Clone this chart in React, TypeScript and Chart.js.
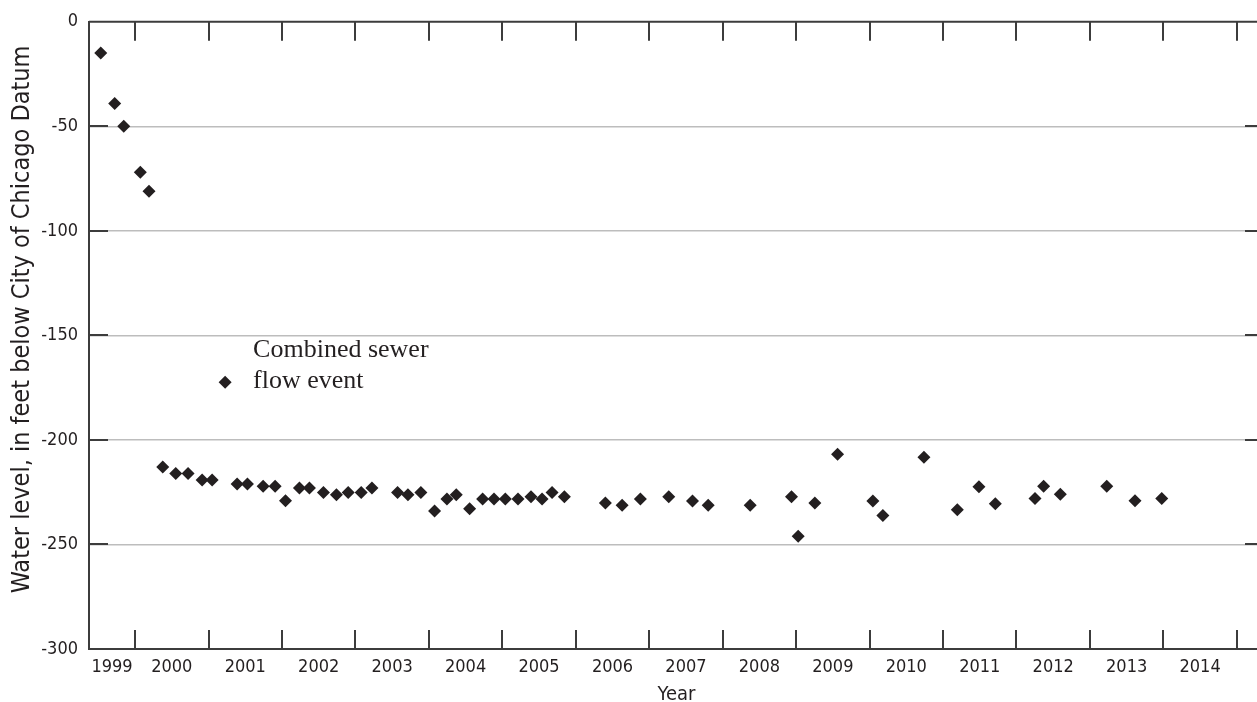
import React, { useEffect, useRef } from 'react';
import { Chart, registerables } from 'chart.js';

Chart.register(...registerables);

// ---- Data ----
const yearLabels = ['1999', '2000', '2001', '2002', '2003', '2004', '2005', '2006', '2007', '2008', '2009', '2010', '2011', '2012', '2013', '2014'];
const yearBoundaries = [2000, 2001, 2002, 2003, 2004, 2005, 2006, 2007, 2008, 2009, 2010, 2011, 2012, 2013, 2014, 2015];
const yTickValues = [0, -50, -100, -150, -200, -250, -300];

const sampleDates = [
  1999.533, 1999.723, 1999.846, 2000.072, 2000.19,
  2000.377, 2000.554, 2000.722, 2000.913, 2001.049,
  2001.39, 2001.53, 2001.744, 2001.907, 2002.048,
  2002.238, 2002.374, 2002.565, 2002.742, 2002.902,
  2003.079, 2003.225, 2003.574, 2003.715, 2003.891,
  2004.078, 2004.246, 2004.373, 2004.555, 2004.732,
  2004.887, 2005.041, 2005.214, 2005.391, 2005.541,
  2005.677, 2005.845, 2006.403, 2006.631, 2006.88,
  2007.266, 2007.589, 2007.803, 2008.375, 2008.937,
  2009.028, 2009.255, 2009.564, 2010.045, 2010.181,
  2010.74, 2011.195, 2011.489, 2011.712, 2012.252,
  2012.37, 2012.597, 2013.229, 2013.614, 2013.978,
];
const waterLevels = [
  -14.9, -39.1, -50, -72, -81,
  -213, -216, -216, -219.2, -219.2,
  -221.1, -221.1, -222.2, -222.1, -229.1,
  -223, -223, -225.1, -226.2, -225.1,
  -225.1, -223, -225.1, -226.2, -225.1,
  -234, -228.3, -226.2, -232.9, -228.3,
  -228.3, -228.3, -228.3, -227.2, -228.3,
  -225.1, -227.2, -230.2, -231.3, -228.3,
  -227.2, -229.2, -231.3, -231.3, -227.2,
  -246.1, -230.2, -206.9, -229.2, -236.1,
  -208.3, -233.4, -222.4, -230.5, -228,
  -222.1, -226, -222.1, -229.1, -228,
];

const sewerEventDates = [2001.226];
const sewerEventLevels = [-172.4];
const sewerEventText = ['Combined sewer', 'flow event'];

const yTitle = 'Water level, in feet below City of Chicago Datum';
const xTitle = 'Year';

const xMin = 1999.373;
const xMax = 2015.37;
const yMin = -300;
const yMax = 0;

// ---- Styles ----
const INK = '#231f20';
const AXIS = '#3c3c3c';
const GRID = '#bdbdbd';
const SANS = "'Liberation Sans Narrow', 'DejaVu Sans Condensed', 'Arial Narrow', sans-serif";
const SERIF = "'Liberation Serif', 'DejaVu Serif', serif";

const frameTicksPlugin = {
  id: 'frameTicks',
  afterDraw(chart: any) {
    const { ctx, chartArea, scales } = chart;
    const { left, right, top, bottom } = chartArea;
    const xs = scales.x;
    const ys = scales.y;
    const len = 19;
    ctx.save();
    ctx.strokeStyle = AXIS;
    ctx.lineWidth = 2;
    ctx.beginPath();
    ctx.moveTo(left, top);
    ctx.lineTo(right, top);
    ctx.moveTo(right, top);
    ctx.lineTo(right, bottom);
    yearBoundaries.forEach((b) => {
      const x = Math.round(xs.getPixelForValue(b));
      ctx.moveTo(x, top);
      ctx.lineTo(x, top + len);
      ctx.moveTo(x, bottom);
      ctx.lineTo(x, bottom - len);
    });
    yTickValues.forEach((v) => {
      if (v === yMin || v === yMax) return;
      const y = Math.round(ys.getPixelForValue(v));
      ctx.moveTo(left, y);
      ctx.lineTo(left + len, y);
      ctx.moveTo(right, y);
      ctx.lineTo(right - len, y);
    });
    ctx.stroke();

    // y-axis title (rotated), placed slightly above the plot's centre as in the original
    ctx.fillStyle = INK;
    ctx.font = `25px ${SANS}`;
    ctx.textAlign = 'center';
    ctx.textBaseline = 'middle';
    ctx.translate(22, (top + bottom) / 2 - 16);
    ctx.rotate(-Math.PI / 2);
    ctx.fillText(yTitle, 0, 0);
    ctx.restore();
  },
};

const annotationPlugin = {
  id: 'sewerAnnotation',
  afterDatasetsDraw(chart: any) {
    const { ctx, scales } = chart;
    const px = scales.x.getPixelForValue(sewerEventDates[0]);
    const py = scales.y.getPixelForValue(sewerEventLevels[0]);
    ctx.save();
    ctx.fillStyle = INK;
    ctx.font = `26px ${SERIF}`;
    ctx.textAlign = 'left';
    ctx.textBaseline = 'alphabetic';
    ctx.fillText(sewerEventText[0], px + 28, py - 25);
    ctx.fillText(sewerEventText[1], px + 28, py + 6);
    ctx.restore();
  },
};

export default function App() {
  const canvasRef = useRef<HTMLCanvasElement | null>(null);

  useEffect(() => {
    document.body.style.margin = '0';
    const canvas = canvasRef.current;
    if (!canvas) return;
    const chart = new Chart(canvas, {
      type: 'scatter',
      data: {
        datasets: [
          {
            label: 'Water level',
            data: sampleDates.map((d, i) => ({ x: d, y: waterLevels[i] })),
            pointStyle: 'rectRot',
            pointRadius: 6.5,
            pointHoverRadius: 6.5,
            backgroundColor: INK,
            borderColor: INK,
            borderWidth: 0,
          },
          {
            label: 'Combined sewer flow event',
            data: sewerEventDates.map((d, i) => ({ x: d, y: sewerEventLevels[i] })),
            pointStyle: 'rectRot',
            pointRadius: 6.5,
            pointHoverRadius: 6.5,
            backgroundColor: INK,
            borderColor: INK,
            borderWidth: 0,
          },
        ],
      },
      options: {
        animation: false,
        responsive: true,
        maintainAspectRatio: false,
        layout: { padding: { left: 0, top: 21, right: 11, bottom: 0 } },
        plugins: {
          legend: { display: false },
          tooltip: { enabled: false },
        },
        scales: {
          x: {
            type: 'linear',
            min: xMin,
            max: xMax,
            afterBuildTicks: (s: any) => {
              // each year label sits in the middle of the visible part of its year
              s.ticks = yearLabels.map((l) => {
                const y0 = Math.max(xMin, Number(l));
                const y1 = Math.min(xMax, Number(l) + 1);
                return { value: (y0 + y1) / 2 };
              });
            },
            afterFit: (s: any) => {
              s.height = 53;
            },
            ticks: {
              autoSkip: false,
              maxRotation: 0,
              padding: 8,
              color: INK,
              font: { family: SANS, size: 18 },
              callback: (_v: any, i: number) => yearLabels[i],
            },
            grid: { display: false, drawTicks: false },
            border: { display: true, color: AXIS, width: 2 },
            title: {
              display: true,
              text: xTitle,
              color: INK,
              font: { family: SANS, size: 20 },
              padding: { top: 0, bottom: -5 },
            },
          },
          y: {
            type: 'linear',
            min: yMin,
            max: yMax,
            afterBuildTicks: (s: any) => {
              s.ticks = yTickValues.map((v) => ({ value: v }));
            },
            afterFit: (s: any) => {
              s.width = 89;
            },
            ticks: {
              padding: 11,
              color: INK,
              font: { family: SANS, size: 18 },
            },
            grid: {
              drawTicks: false,
              lineWidth: 1.5,
              color: (c: any) => (c.tick && (c.tick.value === yMin || c.tick.value === yMax) ? 'rgba(0,0,0,0)' : GRID),
            },
            border: { display: true, color: AXIS, width: 2 },
          },
        },
      },
      plugins: [frameTicksPlugin, annotationPlugin],
    } as any);
    return () => chart.destroy();
  }, []);

  return (
    <div style={{ position: 'fixed', left: 0, top: 0, width: 1257, height: 702, overflow: 'hidden', background: '#fff' }}>
      <div style={{ position: 'relative', width: 1275, height: 702 }}>
        <canvas ref={canvasRef} />
      </div>
    </div>
  );
}
